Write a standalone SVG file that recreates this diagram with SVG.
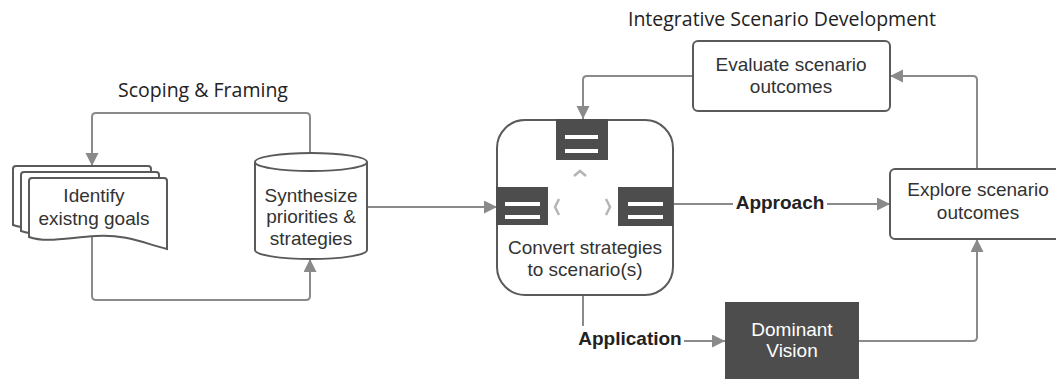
<svg xmlns="http://www.w3.org/2000/svg" width="1056" height="380" viewBox="0 0 1056 380">
<defs>
<style>
.conn{fill:none;stroke:#8a8a8a;stroke-width:2}
.node{fill:#fff;stroke:#5a5a5a;stroke-width:2}
.t{font-family:"Liberation Sans",Arial,sans-serif;font-size:19px;fill:#333;text-anchor:middle}
.lbl{font-family:"Liberation Sans",Arial,sans-serif;font-size:19px;font-weight:bold;fill:#222;text-anchor:middle}
.title{font-family:"Open Sans",sans-serif;font-size:19.5px;fill:#222;text-anchor:middle}
.dark{fill:#4d4d4d}
.bar{fill:#fff}
.chev{fill:none;stroke:#b5b5b5;stroke-width:2.5}
</style>
<marker id="arr" markerUnits="userSpaceOnUse" markerWidth="14" markerHeight="14" refX="13" refY="6.5" orient="auto">
<path d="M0,0 L13,6.5 L0,13 Z" fill="#8a8a8a"/>
</marker>
</defs>
<rect width="1056" height="380" fill="#fff"/>

<text class="title" x="203" y="97">Scoping &amp; Framing</text>
<text class="title" x="782" y="26">Integrative Scenario Development</text>

<g id="connectors">
<path class="conn" d="M310,153 V117 Q310,113 306,113 H96 Q92,113 92,117 V166" marker-end="url(#arr)"/>
<path class="conn" d="M92,234 V296 Q92,300 96,300 H306 Q310,300 310,296 V259" marker-end="url(#arr)"/>
<path class="conn" d="M367,207 H497" marker-end="url(#arr)"/>
<path class="conn" d="M693,76 H587 Q583,76 583,80 V119" marker-end="url(#arr)"/>
<path class="conn" d="M977,169 V80 Q977,76 973,76 H890" marker-end="url(#arr)"/>
<path class="conn" d="M672,204 H890" marker-end="url(#arr)"/>
<path class="conn" d="M583,295 V341 H725" marker-end="url(#arr)"/>
<path class="conn" d="M859,341 H973 Q977,341 977,337 V239" marker-end="url(#arr)"/>
<rect x="733" y="190" width="94" height="26" fill="#fff"/>
<text class="lbl" x="780" y="209">Approach</text>
<rect x="576" y="326" width="108" height="26" fill="#fff"/>
<text class="lbl" x="630" y="345">Application</text>
</g>

<g id="identify-goals">
<path class="node" d="M13,169 Q13,166 16,166 H148 Q151,166 151,169 V237 C130,232 110,222 80,224 C50,226 30,231 13,225 Z"/>
<path class="node" d="M21,175 Q21,172 24,172 H156 Q159,172 159,175 V243 C138,238 118,228 88,230 C58,232 38,237 21,231 Z"/>
<path class="node" d="M29,181 Q29,178 32,178 H164 Q167,178 167,181 V249 C146,244 126,234 96,236 C66,238 46,243 29,237 Z"/>
<text class="t" x="94" y="202">Identify</text>
<text class="t" x="94" y="225">existng goals</text>
</g>

<g id="synthesize">
<path class="node" d="M255,162 A56,9 0 0 1 367,162 V250 A56,9 0 0 1 255,250 Z"/>
<path class="node" d="M255,162 A56,9 0 0 0 367,162"/>
<text class="t" x="311" y="202">Synthesize</text>
<text class="t" x="311" y="223">priorities &amp;</text>
<text class="t" x="311" y="245">strategies</text>
</g>

<g id="convert">
<rect class="node" x="497" y="120" width="176" height="175" rx="28"/>
<rect class="dark" x="556" y="119" width="52" height="41"/>
<rect class="bar" x="565" y="135" width="33" height="4"/>
<rect class="bar" x="565" y="149" width="33" height="4"/>
<rect class="dark" x="496" y="187" width="52" height="38"/>
<rect class="bar" x="505" y="202" width="35" height="4"/>
<rect class="bar" x="505" y="215" width="35" height="4"/>
<rect class="dark" x="618" y="187" width="55" height="39"/>
<rect class="bar" x="628" y="202" width="35" height="4"/>
<rect class="bar" x="628" y="215" width="35" height="4"/>
<polyline class="chev" points="574,176 580,171 586,176"/>
<polyline class="chev" points="559,199 555,207 559,215"/>
<polyline class="chev" points="606,199 610,207 606,215"/>
<text class="t" x="585" y="254">Convert strategies</text>
<text class="t" x="585" y="276">to scenario(s)</text>
</g>

<g id="evaluate">
<rect class="node" x="693" y="41" width="197" height="70" rx="5"/>
<text class="t" x="791" y="71">Evaluate scenario</text>
<text class="t" x="791" y="93">outcomes</text>
</g>

<g id="explore">
<rect class="node" x="890" y="169" width="176" height="70" rx="5"/>
<text class="t" x="978" y="196">Explore scenario</text>
<text class="t" x="978" y="219">outcomes</text>
</g>

<g id="dominant">
<rect class="dark" x="725" y="302" width="134" height="77"/>
<text class="t" x="792" y="336" fill="#fff" style="fill:#fff">Dominant</text>
<text class="t" x="792" y="357" style="fill:#fff">Vision</text>
</g>
</svg>
